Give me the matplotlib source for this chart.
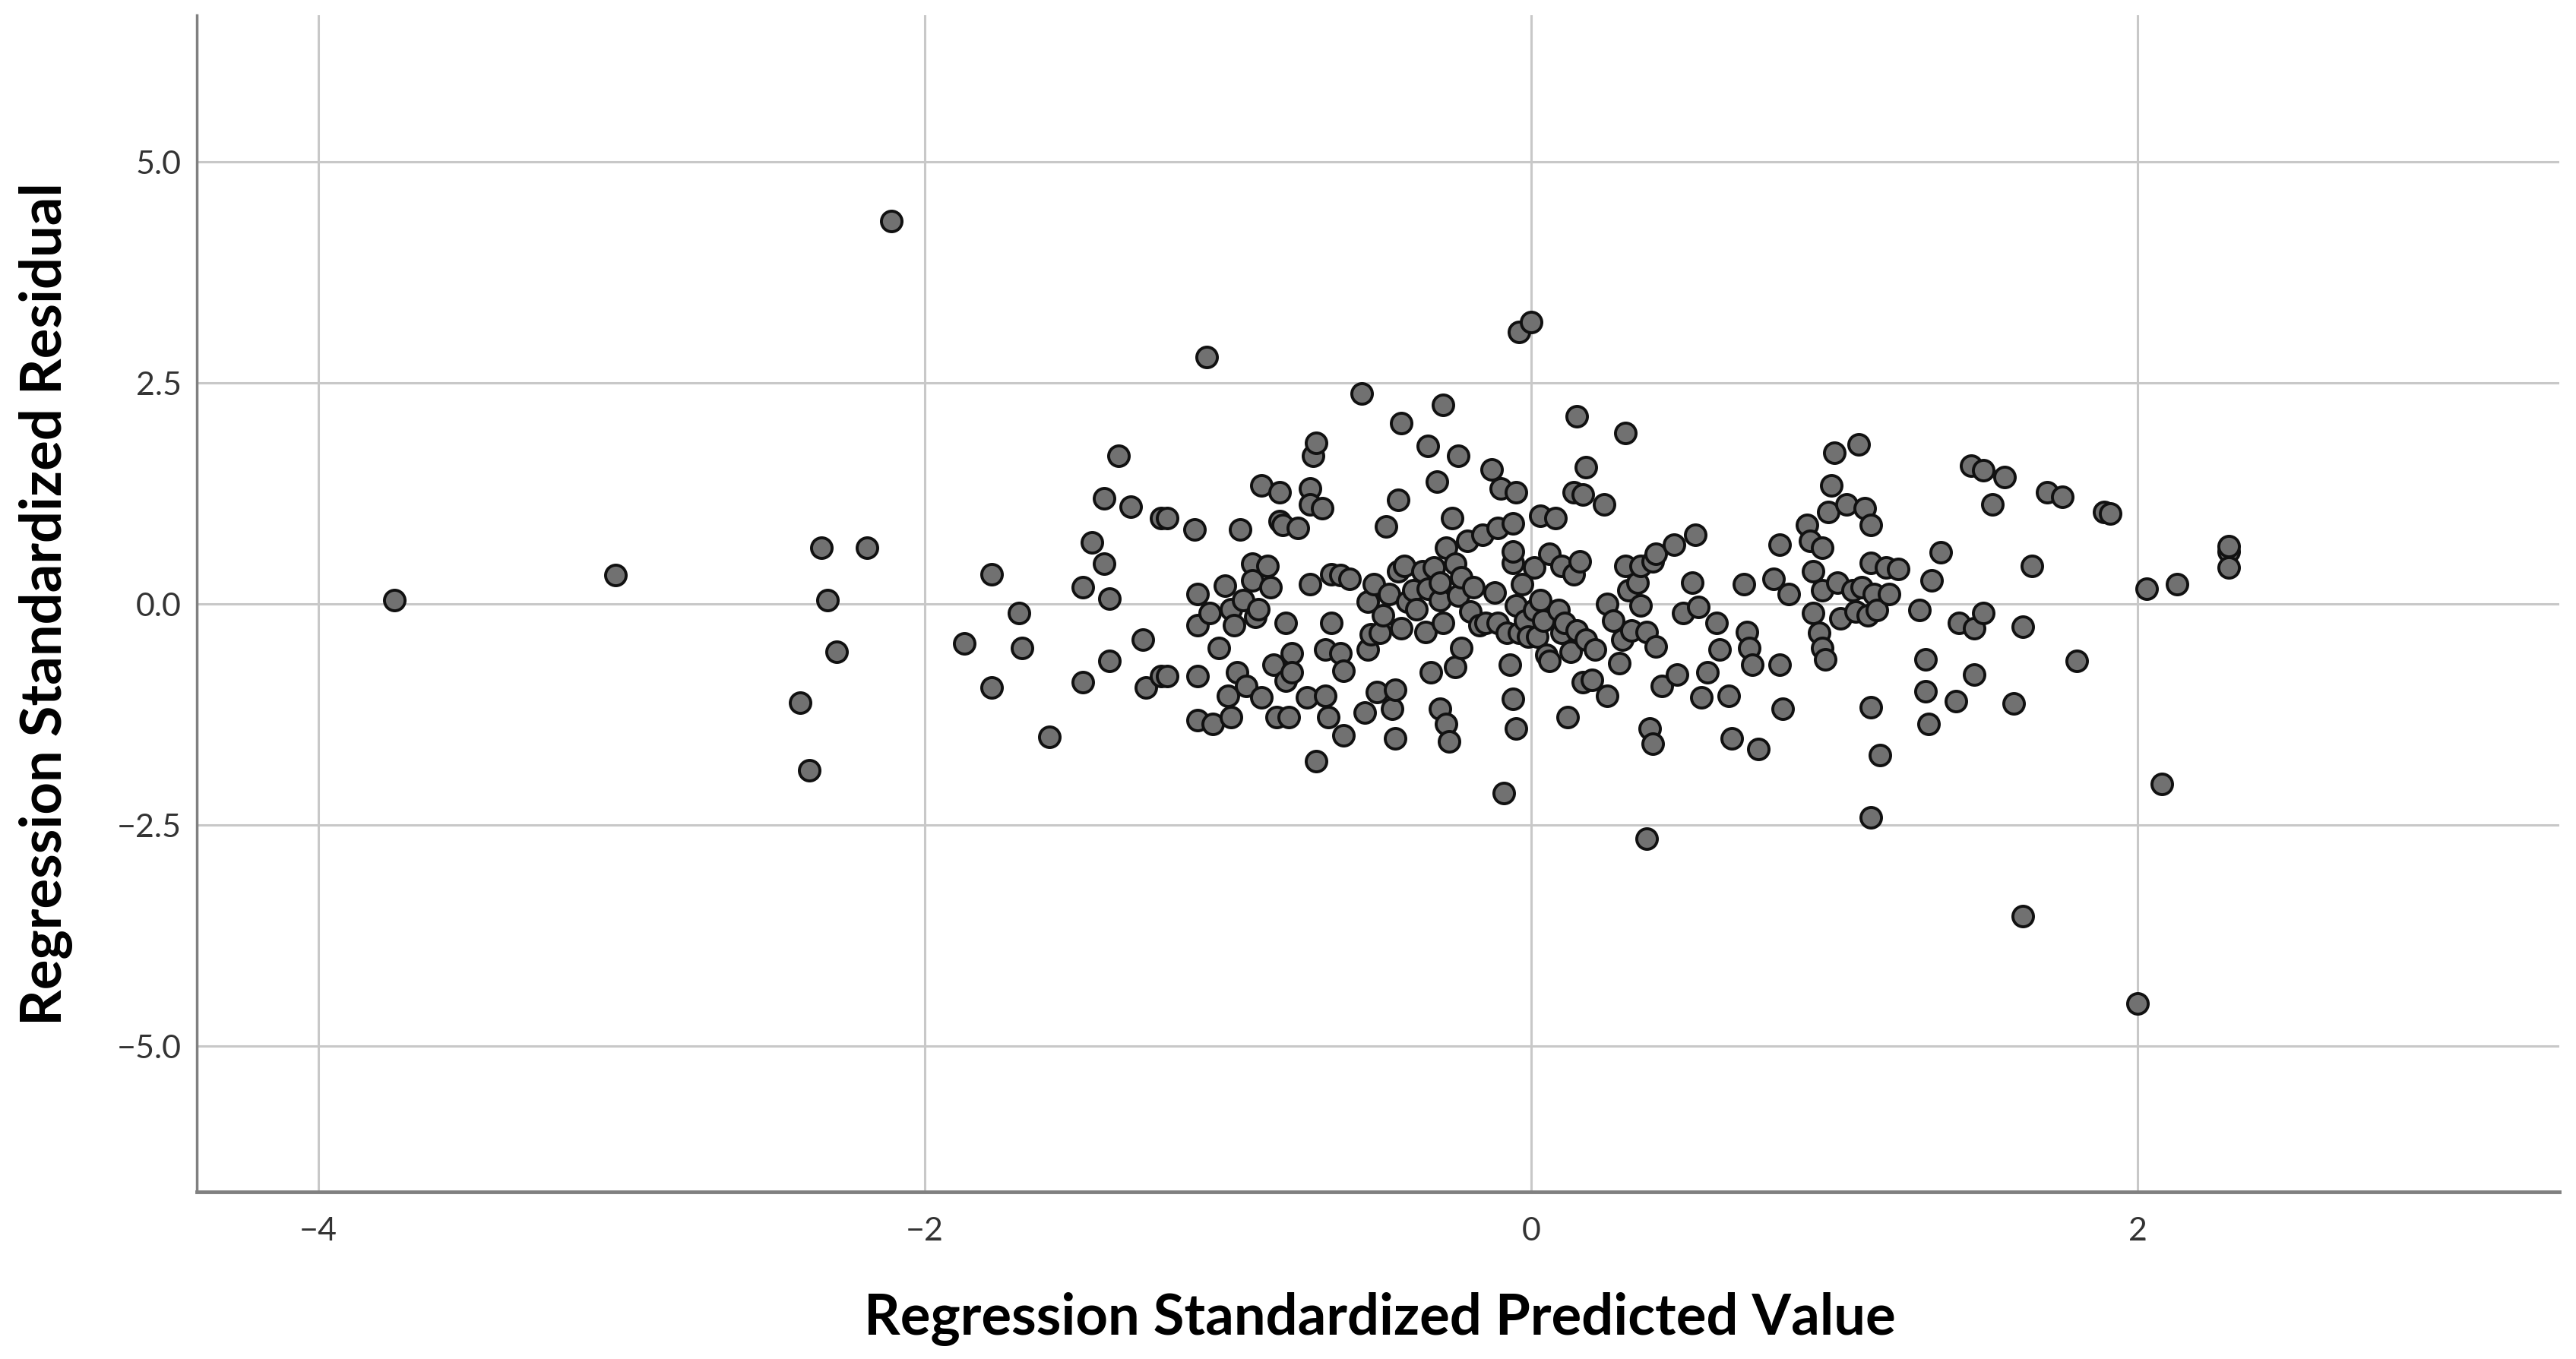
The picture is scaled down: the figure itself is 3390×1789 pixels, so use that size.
import matplotlib
matplotlib.use('Agg')
import matplotlib.pyplot as plt

plt.rcParams['font.family'] = ['Lato', 'DejaVu Sans']

# standardized predicted value (x) and standardized residual (y)
pred = [-3.75, -3.02, -2.11, -2.34, -2.19, -2.32, -2.29, -2.41, -2.38, -1.87,
        -1.78, -1.78, -1.69, -1.68, -1.59, -1.48, -1.48, -1.45, -1.41, -1.41,
        -1.39, -1.39, -1.36, -1.32, -1.28, -1.27, -1.22, -1.22, -1.20, -1.20,
        -1.11, -1.10, -1.10, -1.10, -1.10, -1.07, -1.06, -1.05, -1.03, -1.01,
        -1.00, -0.99, -0.99, -0.98, -0.96, -0.97, -0.95, -0.94, -0.92, -0.92,
        -0.91, -0.90, -0.89, -0.89, -0.87, -0.86, -0.85, -0.84, -0.83, -0.83,
        -0.82, -0.81, -0.81, -0.80, -0.79, -0.79, -0.77, -0.74, -0.73, -0.73,
        -0.73, -0.72, -0.71, -0.71, -0.69, -0.68, -0.68, -0.67, -0.66, -0.66,
        -0.63, -0.63, -0.62, -0.62, -0.60, -0.56, -0.55, -0.54, -0.54, -0.53,
        -0.52, -0.51, -0.50, -0.49, -0.48, -0.47, -0.46, -0.45, -0.45, -0.44,
        -0.44, -0.43, -0.43, -0.42, -0.41, -0.39, -0.38, -0.36, -0.35, -0.34,
        -0.34, -0.33, -0.32, -0.31, -0.30, -0.30, -0.30, -0.29, -0.29, -0.28,
        -0.28, -0.27, -0.26, -0.25, -0.25, -0.24, -0.24, -0.23, -0.23, -0.21,
        -0.20, -0.19, -0.17, -0.16, -0.15, -0.13, -0.12, -0.11, -0.11, -0.10,
        -0.09, -0.08, -0.07, -0.06, -0.06, -0.06, -0.06, -0.05, -0.05, -0.05,
        -0.04, -0.04, -0.03, -0.02, -0.01, 0.00, 0.01, 0.01, 0.02, 0.03,
        0.03, 0.04, 0.05, 0.06, 0.06, 0.08, 0.09, 0.10, 0.10, 0.11,
        0.12, 0.13, 0.14, 0.14, 0.15, 0.15, 0.16, 0.17, 0.17, 0.18,
        0.18, 0.20, 0.21, 0.24, 0.25, 0.25, 0.27, 0.29, 0.30, 0.31,
        0.31, 0.32, 0.33, 0.35, 0.36, 0.36, 0.38, 0.40, 0.39, 0.40,
        0.38, 0.41, 0.41, 0.43, 0.47, 0.48, 0.50, 0.54, 0.53, 0.55,
        0.56, 0.58, 0.61, 0.62, 0.65, 0.66, 0.70, 0.71, 0.72, 0.73,
        0.75, 0.80, 0.82, 0.82, 0.83, 0.85, 0.91, 0.92, 0.93, 0.93,
        0.95, 0.96, 0.96, 0.97, 0.96, 0.98, 0.99, 1.00, 1.01, 1.02,
        1.04, 1.06, 1.07, 1.08, 1.09, 1.10, 1.11, 1.12, 1.12, 1.12,
        1.12, 1.13, 1.14, 1.15, 1.17, 1.18, 1.21, 1.28, 1.30, 1.30,
        1.31, 1.32, 1.35, 1.40, 1.41, 1.45, 1.46, 1.46, 1.49, 1.49,
        1.52, 1.56, 1.59, 1.62, 1.65, 1.62, 1.70, 1.75, 1.80, 1.89,
        1.91, 2.00, 2.03, 2.08, 2.13, 2.30, 2.30, 2.30]
resid = [0.04, 0.32, 4.33, 0.63, 0.63, 0.04, -0.54, -1.12, -1.88, -0.45,
         0.33, -0.95, -0.11, -0.50, -1.51, 0.19, -0.89, 0.69, 1.19, 0.45,
         0.06, -0.65, 1.67, 1.10, -0.41, -0.95, 0.97, -0.82, -0.82, 0.97,
         0.84, 0.11, -0.24, -0.82, -1.32, 2.79, -0.11, -1.36, -0.50, 0.20,
         -1.04, -0.06, -1.28, -0.24, 0.84, -0.78, 0.04, -0.93, 0.45, 0.26,
         -0.15, -0.06, 1.34, -1.06, 0.43, 0.19, -0.69, -1.28, 0.93, 1.26,
         0.89, -0.22, -0.87, -1.28, -0.56, -0.78, 0.86, -1.06, 1.30, 0.22,
         1.12, 1.67, 1.82, -1.78, 1.08, -1.04, -0.52, -1.28, 0.33, -0.22,
         0.32, -0.56, -1.49, -0.76, 0.28, 2.38, -1.23, -0.52, 0.02, -0.35,
         0.22, -1.00, -0.33, -0.13, 0.87, 0.11, -1.19, -1.52, -0.97, 0.37,
         1.17, -0.28, 2.04, 0.43, 0.02, 0.15, -0.06, 0.37, -0.32, 0.17,
         1.78, -0.78, 0.41, 1.38, 0.04, -1.19, 0.24, 2.25, -0.22, 0.63,
         -1.36, -1.56, 0.97, 0.45, -0.72, 1.67, 0.09, -0.50, 0.30, 0.71,
         -0.09, 0.19, -0.24, 0.78, -0.22, 1.52, 0.13, 0.86, -0.22, 1.30,
         -2.14, -0.33, -0.69, 0.91, 0.46, 0.59, -1.08, -1.41, 1.26, -0.02,
         3.07, -0.33, 0.22, -0.19, -0.37, 3.18, 0.41, -0.07, -0.37, 0.04,
         0.99, -0.19, -0.58, -0.65, 0.56, 0.97, -0.07, -0.33, 0.43, -0.22,
         -1.28, -0.54, 1.26, 0.33, 2.12, -0.30, 0.48, 1.23, -0.89, 1.54,
         -0.41, -0.86, -0.52, 1.12, 0.00, -1.04, -0.19, -0.67, -0.41, 1.93,
         0.43, 0.15, -0.30, 0.24, -0.02, 0.43, -0.32, 0.48, -1.41, -1.58,
         -2.66, 0.56, -0.48, -0.93, 0.67, -0.80, -0.11, 0.78, 0.24, -0.04,
         -1.06, -0.78, -0.22, -0.52, -1.04, -1.52, 0.22, -0.32, -0.50, -0.69,
         -1.64, 0.28, 0.67, -0.69, -1.19, 0.11, 0.89, 0.71, 0.37, -0.11,
         -0.33, 0.15, -0.50, -0.63, 0.63, 1.04, 1.34, 1.71, 0.24, -0.17,
         1.12, 0.15, -0.09, 1.80, 0.19, 1.08, -0.13, 0.46, 0.89, -1.17,
         -2.42, 0.11, -0.07, -1.71, 0.41, 0.11, 0.39, -0.07, -0.63, -0.99,
         -1.36, 0.26, 0.58, -1.10, -0.22, 1.56, -0.28, -0.80, 1.51, -0.11,
         1.12, 1.43, -1.13, -0.26, 0.43, -3.53, 1.26, 1.21, -0.65, 1.04,
         1.02, -4.52, 0.17, -2.04, 0.22, 0.59, 0.41, 0.65]

x_ticks = [-4, -2, 0, 2]
y_ticks = [-5.0, -2.5, 0.0, 2.5, 5.0]
y_ticklabels = ['\u22125.0', '\u22122.5', '0.0', '2.5', '5.0']
x_ticklabels = ['\u22124', '\u22122', '0', '2']

fig = plt.figure(figsize=(33.9, 17.9), dpi=100)
ax = fig.add_axes([0.0765, 0.123, 0.917, 0.865])

ax.set_xlim(-4.4, 3.39)
ax.set_ylim(-6.65, 6.65)
ax.set_xticks(x_ticks)
ax.set_xticklabels(x_ticklabels)
ax.set_yticks(y_ticks)
ax.set_yticklabels(y_ticklabels)
ax.grid(True, color='#c8c8c8', linewidth=2.2)
ax.set_axisbelow(True)

ax.scatter(pred, resid, s=380, facecolor='#717171', edgecolor='#111111',
           linewidth=2.8, zorder=3)

for side in ['top', 'right']:
    ax.spines[side].set_visible(False)
ax.spines['left'].set_color('#808080')
ax.spines['left'].set_linewidth(2.5)
ax.spines['bottom'].set_color('#808080')
ax.spines['bottom'].set_linewidth(3.5)

ax.tick_params(axis='both', length=0, labelsize=31, colors='#333333')
ax.tick_params(axis='x', pad=23)
ax.tick_params(axis='y', pad=15)

ax.set_xlabel('Regression Standardized Predicted Value', fontsize=53.5,
              fontweight='bold', va='baseline', ha='center')
ax.xaxis.set_label_coords(0.5357, 0.0184, transform=fig.transFigure)
ax.set_ylabel('Regression Standardized Residual', fontsize=53.5,
              fontweight='bold', va='baseline', ha='center',
              rotation_mode='anchor')
ax.yaxis.set_label_coords(0.0239, 0.556, transform=fig.transFigure)

fig.savefig('out.png', dpi=100, facecolor='white')
